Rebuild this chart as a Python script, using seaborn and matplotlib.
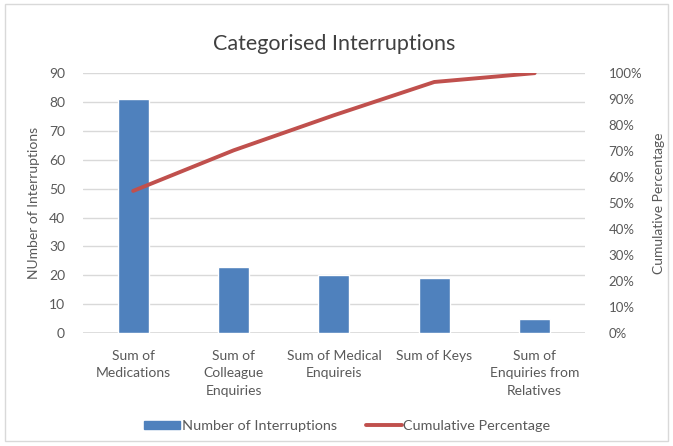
import matplotlib
matplotlib.use("Agg")
import matplotlib.pyplot as plt
from matplotlib.patches import Rectangle
from matplotlib.ticker import PercentFormatter
from matplotlib.lines import Line2D
import seaborn as sns
import pandas as pd

categories = ["Sum of\nMedications", "Sum of\nColleague\nEnquiries", "Sum of Medical\nEnquireis",
              "Sum of Keys", "Sum of\nEnquiries from\nRelatives"]
interruptions = [81, 23, 20, 19, 5]
cumulative_pct = [54.7, 70.3, 83.8, 96.6, 100]

bar_color = "#4f81bd"
line_color = "#c0504d"
text_color = "#595959"
grid_color = "#d9d9d9"

sns.set_style("white")
plt.rcParams["font.family"] = ["Lato", "DejaVu Sans"]

df = pd.DataFrame({"category": categories, "count": interruptions, "cum": cumulative_pct})

fig = plt.figure(figsize=(6.73, 4.46), dpi=100)
ax = fig.add_axes([0.1233, 0.253, 0.7457, 0.583])

sns.barplot(data=df, x="category", y="count", color=bar_color, width=0.31,
            saturation=1, ax=ax, zorder=3)
ax.set_ylim(0, 90)
ax.set_yticks(range(0, 91, 10))
ax.set_xlim(-0.5, len(categories) - 0.5)
ax.yaxis.grid(True, color=grid_color, linewidth=1, zorder=0)
ax.set_axisbelow(True)
for s in ax.spines.values():
    s.set_visible(False)
ax.axhline(0, color=grid_color, linewidth=1.2, zorder=1)
ax.tick_params(length=0, colors=text_color, labelsize=10)
ax.tick_params(axis="y", pad=13)
ax.tick_params(axis="x", pad=12)
ax.set_xlabel("")
ax.set_ylabel("NUmber of Interruptions", color=text_color, fontsize=10, labelpad=6)
ax.set_xticks(range(len(categories)))
ax.set_xticklabels(categories, multialignment="center", linespacing=1.55)
ax.set_title("Categorised Interruptions", color="#404040", fontsize=15.5, pad=17)

ax2 = ax.twinx()
sns.lineplot(data=df, x="category", y="cum", color=line_color, linewidth=2.8,
             sort=False, ax=ax2, zorder=4)
ax2.set_ylim(0, 100)
ax2.set_yticks(range(0, 101, 10))
ax2.yaxis.set_major_formatter(PercentFormatter(decimals=0))
for s in ax2.spines.values():
    s.set_visible(False)
ax2.tick_params(length=0, colors=text_color, labelsize=9.5, pad=17)
ax2.set_ylabel("Cumulative Percentage", color=text_color, fontsize=10, labelpad=8)
ax2.set_xlabel("")

handles = [Rectangle((0, 0), 1, 1, color=bar_color),
           Line2D([0], [0], color=line_color, linewidth=2.8)]
fig.legend(handles, ["Number of Interruptions", "Cumulative Percentage"],
           loc="center", bbox_to_anchor=(0.516, 0.045), ncol=2, frameon=False,
           fontsize=10.4, labelcolor=text_color, handlelength=2.5, handleheight=0.5,
           handletextpad=0.1, columnspacing=2.0)

fig.patches.append(Rectangle((0.008, 0.012), 0.984, 0.978, transform=fig.transFigure,
                             fill=False, edgecolor=grid_color, linewidth=1))

fig.savefig("out.png", dpi=100)
